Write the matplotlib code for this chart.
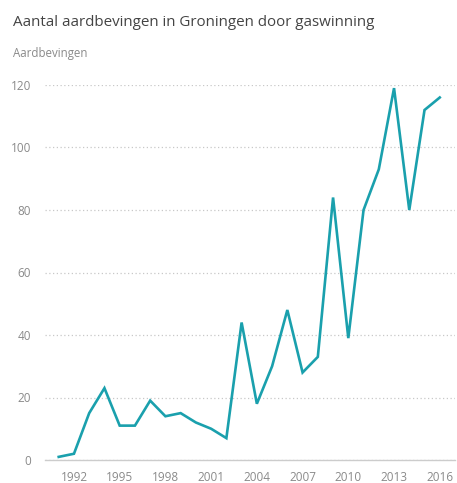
import matplotlib
matplotlib.use("Agg")
import matplotlib.pyplot as plt

# Earthquakes per year
years = list(range(1991, 2017))
quakes = [1, 2, 15, 23, 11, 11, 19, 14, 15, 12, 10, 7, 44, 18, 30,
          48, 28, 33, 84, 39, 80, 93, 119, 80, 112, 116]
xticks = [1992, 1995, 1998, 2001, 2004, 2007, 2010, 2013, 2016]
yticks = [0, 20, 40, 60, 80, 100, 120]

title = "Aantal aardbevingen in Groningen door gaswinning"
ylabel = "Aardbevingen"

plt.rcParams['font.family'] = ['Open Sans', 'DejaVu Sans']

W, H = 457, 483
fig = plt.figure(figsize=(W / 100, H / 100), dpi=100)
ax = fig.add_axes([45 / W, 1 - 460 / H, 410 / W, (460 - 85) / H])

ax.plot(years, quakes, color='#1aa0ad', lw=1.9, solid_joinstyle='miter',
        clip_on=False, zorder=3)

ax.set_xlim(1990.1, 2017.0)
ax.set_ylim(0, 120)
ax.set_xticks(xticks)
ax.set_yticks(yticks)

for s in ['top', 'right', 'left']:
    ax.spines[s].set_visible(False)
ax.spines['bottom'].set_color('#cccccc')
ax.spines['bottom'].set_linewidth(1.0)

ax.yaxis.grid(True, color='#c8c8c8', linestyle=(0, (1, 2)), linewidth=0.9)
ax.set_axisbelow(True)
ax.tick_params(axis='both', length=0, labelsize=8.5, labelcolor='#8a8a8a')
ax.tick_params(axis='y', pad=10)
ax.tick_params(axis='x', pad=8)

fig.text(13 / W, 1 - 22 / H, title, fontsize=10.9, color='#444444',
         ha='left', va='center')
fig.text(13 / W, 1 - 53 / H, ylabel, fontsize=8.3, color='#8a8a8a',
         ha='left', va='center')

fig.savefig('out.png', dpi=100, facecolor='white')
